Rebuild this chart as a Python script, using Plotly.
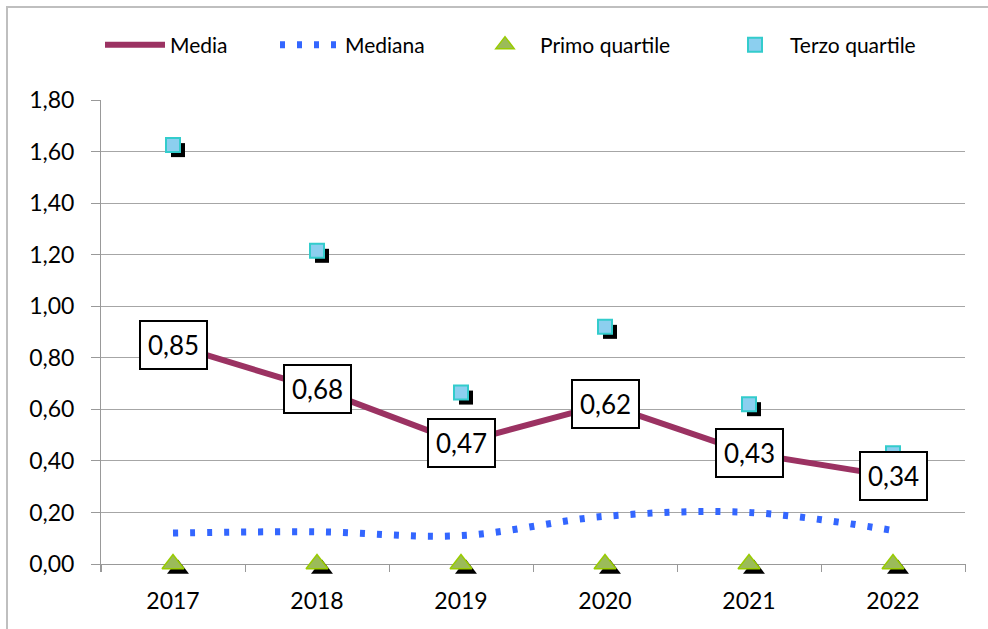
import plotly.graph_objects as go

years = ["2017", "2018", "2019", "2020", "2021", "2022"]
media = [0.85, 0.68, 0.47, 0.62, 0.43, 0.34]
mediana = [0.12, 0.125, 0.11, 0.185, 0.20, 0.13]
primo_quartile = [0.0, 0.0, 0.0, 0.0, 0.0, 0.0]
terzo_quartile = [1.625, 1.215, 0.665, 0.92, 0.62, 0.43]
y_ticks = [0.0, 0.2, 0.4, 0.6, 0.8, 1.0, 1.2, 1.4, 1.6, 1.8]

W, H = 988, 629
L, R, T, B = 101, 23, 100, 57
pw, ph = W - L - R, H - T - B
px_per_val = (ph - 8) / 1.8
y_ext = 8 / px_per_val          # plot area extends 8px below zero (tick marks region)
xs = list(range(len(years)))
dx = 5 / (pw / len(years))      # 5 px shadow offset in category units
dy = 5 / px_per_val             # 5 px shadow offset in value units

FONT = "Lato, 'Noto Sans', sans-serif"

fig = go.Figure()

# shadows
fig.add_trace(go.Scatter(x=[x + dx for x in xs], y=[v - dy for v in terzo_quartile], mode="markers",
                         marker=dict(symbol="square", size=14, color="black"),
                         showlegend=False, hoverinfo="skip", cliponaxis=False))
fig.add_trace(go.Scatter(x=[x + dx for x in xs], y=[v - dy for v in primo_quartile], mode="markers",
                         marker=dict(symbol="triangle-up", size=19, color="black"),
                         showlegend=False, hoverinfo="skip", cliponaxis=False))

fig.add_trace(go.Scatter(x=xs, y=media, mode="lines", name="Media", legend="legend",
                         line=dict(color="#9B3262", width=6), cliponaxis=False))
fig.add_trace(go.Scatter(x=xs, y=mediana, mode="lines", name="Mediana", legend="legend2",
                         line=dict(color="#3366FF", width=7, dash="5px,12px", shape="spline", smoothing=1.0),
                         cliponaxis=False))
fig.add_trace(go.Scatter(x=xs, y=primo_quartile, mode="markers", name="Primo quartile", legend="legend3",
                         marker=dict(symbol="triangle-up", size=19, color="#9BBB59",
                                     line=dict(color="#99CC00", width=1.5)),
                         cliponaxis=False))
fig.add_trace(go.Scatter(x=xs, y=terzo_quartile, mode="markers", name="Terzo quartile", legend="legend4",
                         marker=dict(symbol="square", size=14, color="#8CCFEF",
                                     line=dict(color="#33CCCC", width=2)),
                         cliponaxis=False))

for x, v in zip(xs, media):
    fig.add_annotation(x=x, y=v, text=f"{v:.2f}".replace(".", ","), showarrow=False,
                       font=dict(family=FONT, size=26, color="black"),
                       bgcolor="white", bordercolor="black", borderwidth=2, borderpad=7)

# outer chart border
fig.add_shape(type="rect", xref="paper", yref="paper",
              x0=(7 - L) / pw, x1=(W + 20 - L) / pw,
              y0=(B - (H + 20)) / ph, y1=1 + (T - 7) / ph,
              line=dict(color="#BFBFBF", width=2), fillcolor="rgba(0,0,0,0)", layer="below")


def leg(text_x, itemwidth=60):
    return dict(orientation="h", x=(text_x - 70) / W, xref="container", y=1 - 45 / H, yref="container",
                yanchor="middle", xanchor="left", bgcolor="rgba(0,0,0,0)",
                font=dict(family=FONT, size=21, color="black"), itemwidth=itemwidth)


fig.update_layout(
    width=W, height=H,
    margin=dict(l=L, r=R, t=T, b=B, autoexpand=False),
    paper_bgcolor="white", plot_bgcolor="white",
    separators=",.",
    font=dict(family=FONT, size=22, color="black"),
    legend=leg(170), legend2=leg(345), legend3=leg(540), legend4=leg(790),
    xaxis=dict(range=[-0.5, len(years) - 0.5], tickvals=xs, ticktext=years, ticks="",
               showline=False, showgrid=False, zeroline=False, automargin=False,
               tickfont=dict(size=23), ticklabelstandoff=13,
               minor=dict(tickmode="linear", tick0=-0.5, dtick=1, ticks="inside", ticklen=8,
                          tickcolor="#999999", showgrid=False)),
    yaxis=dict(range=[-y_ext, 1.8], tickvals=y_ticks, tickformat=".2f", ticks="outside", ticklen=9,
               tickcolor="#999999", showline=True, linecolor="#999999", linewidth=1,
               showgrid=True, gridcolor="#A6A6A6", gridwidth=1,
               zeroline=True, zerolinecolor="#999999", zerolinewidth=1, automargin=False,
               tickfont=dict(size=23), ticklabelstandoff=12),
)

fig.write_html("out.html", config={"displayModeBar": False},
               post_script="document.body.style.margin='0px';")
